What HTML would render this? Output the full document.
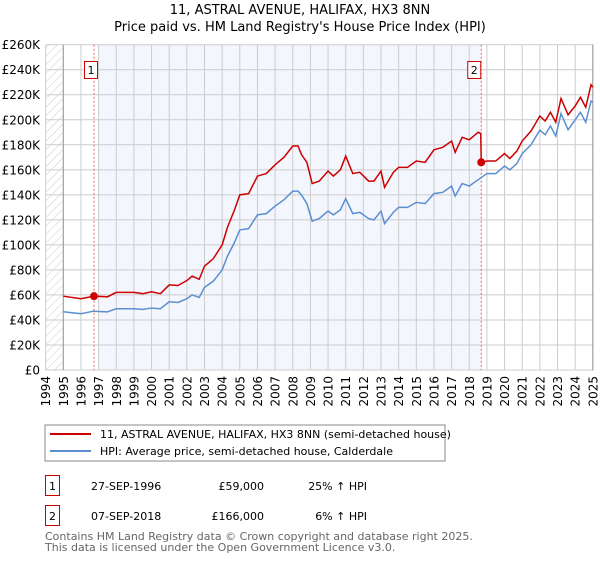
<!DOCTYPE html>
<html><head><meta charset="utf-8"><style>
body{margin:0;background:#fff;width:600px;height:560px;overflow:hidden;font-family:"DejaVu Sans","Liberation Sans",sans-serif}
svg text{font-family:"DejaVu Sans","Liberation Sans",sans-serif}
</style></head><body>
<svg id="c" width="600" height="560" xmlns="http://www.w3.org/2000/svg">
<defs><pattern id="hatch" width="6" height="6" patternUnits="userSpaceOnUse" patternTransform="rotate(45)"><line x1="0" y1="0" x2="0" y2="6" stroke="#ccc" stroke-width="1"/></pattern></defs>
<text x="300" y="14" text-anchor="middle" font-size="13">11, ASTRAL AVENUE, HALIFAX, HX3 8NN</text>
<text x="300" y="31" text-anchor="middle" font-size="13">Price paid vs. HM Land Registry's House Price Index (HPI)</text>
<g id="plot"></g>
<rect x="45" y="425" width="400" height="36" fill="#fff" stroke="#888"/>
<line x1="50" y1="434" x2="91" y2="434" stroke="#cc0000" stroke-width="2"/>
<text x="100" y="438" font-size="11">11, ASTRAL AVENUE, HALIFAX, HX3 8NN (semi-detached house)</text>
<line x1="50" y1="451" x2="91" y2="451" stroke="#5b8fd0" stroke-width="2"/>
<text x="100" y="455" font-size="11">HPI: Average price, semi-detached house, Calderdale</text>
<g>
<rect x="45.5" y="475.5" width="14" height="20" fill="none" stroke="#cc0000"/>
<text x="52.5" y="490" text-anchor="middle" font-size="11">1</text>
<text x="91" y="490" font-size="11">27-SEP-1996</text>
<text x="264" y="490" text-anchor="end" font-size="11">£59,000</text>
<text x="367" y="490" text-anchor="end" font-size="11">25% ↑ HPI</text>
</g>
<g>
<rect x="45.5" y="505.5" width="14" height="20" fill="none" stroke="#cc0000"/>
<text x="52.5" y="520" text-anchor="middle" font-size="11">2</text>
<text x="91" y="520" font-size="11">07-SEP-2018</text>
<text x="264" y="520" text-anchor="end" font-size="11">£166,000</text>
<text x="367" y="520" text-anchor="end" font-size="11">6% ↑ HPI</text>
</g>
<text x="45" y="540" font-size="11" fill="#666">Contains HM Land Registry data © Crown copyright and database right 2025.</text>
<text x="45" y="551" font-size="11" fill="#666">This data is licensed under the Open Government Licence v3.0.</text>
</svg>
<script>
const hpiYears=[1995,1996,1996.7,1997.5,1998,1999,1999.5,2000,2000.5,2001,2001.5,2002,2002.3,2002.7,2003,2003.5,2004,2004.3,2004.7,2005,2005.5,2006,2006.5,2007,2007.5,2008,2008.3,2008.5,2008.8,2009.1,2009.5,2010,2010.3,2010.7,2011,2011.4,2011.8,2012.3,2012.6,2013,2013.2,2013.7,2014,2014.5,2015,2015.5,2016,2016.5,2017,2017.2,2017.6,2018,2018.5,2019,2019.5,2020,2020.3,2020.7,2021,2021.5,2022,2022.3,2022.6,2022.9,2023.2,2023.6,2024,2024.3,2024.6,2024.9,2025];
const hpiValues=[46.6,45,47,46.5,49,49,48.5,49.5,49,54.5,54,57,60,58,66,71,80,91,102,112,113,124,125,131,136,143,143,139.8,133,119,121,127,124,128,137,125,126,121,120,127,117,126,130,130,134,133,141,142,147,139,149,147,152,157,157,163,160,165,173,180,191.7,188,195,187,205,192,200,206,198,215,214];
const priceYears=[1995,1996,1996.74,1997.5,1998,1999,1999.5,2000,2000.5,2001,2001.5,2002,2002.3,2002.7,2003,2003.5,2004,2004.3,2004.7,2005,2005.5,2006,2006.5,2007,2007.5,2008,2008.3,2008.5,2008.8,2009.1,2009.5,2010,2010.3,2010.7,2011,2011.4,2011.8,2012.3,2012.6,2013,2013.2,2013.7,2014,2014.5,2015,2015.5,2016,2016.5,2017,2017.2,2017.6,2018,2018.5,2018.65,2018.68,2019,2019.5,2020,2020.3,2020.7,2021,2021.5,2022,2022.3,2022.6,2022.9,2023.2,2023.6,2024,2024.3,2024.6,2024.9,2025];
const priceValues=[59,57,59,58.5,62,62,61,62.5,61,68,67.5,71.5,75,72.5,83,89,100,114,128,140,141,155,157,164,170,179,179,172,166,149,151,159,155,160,171,157,158,151,151,159,146,158,162,162,167,166,176,178,183,174,186,184,190,189,166,167,167,173,169,175,183,191,203,199,206,198,217,204,211,218,210,228,226];
const saleYears=[1996.74,2018.68];
const saleValues=[59,166];
const yTicks=[0,20,40,60,80,100,120,140,160,180,200,220,240,260];
const xTickYears=[1994,1995,1996,1997,1998,1999,2000,2001,2002,2003,2004,2005,2006,2007,2008,2009,2010,2011,2012,2013,2014,2015,2016,2017,2018,2019,2020,2021,2022,2023,2024,2025];
const X=y=>63.3+(y-1995)*17.65, Y=v=>370-v*(325.3/260);
const ns='http://www.w3.org/2000/svg', g=document.getElementById('plot');
function el(t,a,p){const e=document.createElementNS(ns,t);for(const k in a)e.setAttribute(k,a[k]);(p||g).appendChild(e);return e;}
const L=X(1994),R=X(2025)+1,T=Y(260),B=Y(0);
let e=el('rect',{x:L,y:T,width:X(1995)-L,height:B-T,fill:'url(#hatch)'});


e=el('rect',{x:X(1997),y:T,width:X(saleYears[1])-X(1997),height:B-T,fill:'#f3f6fd'});


yTicks.forEach(v=>{
 e=el('line',{x1:L,x2:R,y1:Y(v),y2:Y(v),stroke:'#ccc'});
 
 
 e=el('text',{x:40,y:Y(v)+4.5,'text-anchor':'end','font-size':'12'});e.textContent=v===0?'£0':'£'+v+'K';
 
 
});
xTickYears.forEach(y=>{
 e=el('line',{x1:X(y),x2:X(y),y1:T,y2:B,stroke:'#ccc'});
 
 
 e=el('text',{x:0,y:0,'font-size':'12','text-anchor':'end',transform:`translate(${X(y)+4.5},${B+6}) rotate(-90)`});e.textContent=y;
 
 
});
e=el('line',{x1:X(1995),x2:X(1995),y1:T,y2:B,stroke:'#999'});


e=el('line',{x1:X(2025),x2:X(2025),y1:T,y2:B,stroke:'#999'});


saleYears.forEach((s,i)=>{
 e=el('line',{x1:X(s),x2:X(s),y1:T,y2:B,stroke:'#f06060','stroke-dasharray':'2,2'});
 
 
 const bx=X(s)-[10,14][i]/1-0;
 e=el('rect',{x:X(s)-[9.5,9.5][i]+(i?-4:0),y:61.5,width:13,height:17,fill:'#fff',stroke:'#cc0000'});
 
 
 e=el('text',{x:X(s)-3+(i?-4:0),y:74,'text-anchor':'middle','font-size':'11'});e.textContent=String(i+1);
 
 
});
e=el('polyline',{points:hpiYears.map((y,i)=>X(y)+','+Y(hpiValues[i])).join(' '),fill:'none',stroke:'#5b8fd0','stroke-width':1.5});


e=el('polyline',{points:priceYears.map((y,i)=>X(y)+','+Y(priceValues[i])).join(' '),fill:'none',stroke:'#cc0000','stroke-width':1.5});


saleYears.forEach((s,i)=>{
 e=el('circle',{cx:X(s),cy:Y(saleValues[i]),r:4,fill:'#cc0000'});
 
 
});
</script>
</body></html>
